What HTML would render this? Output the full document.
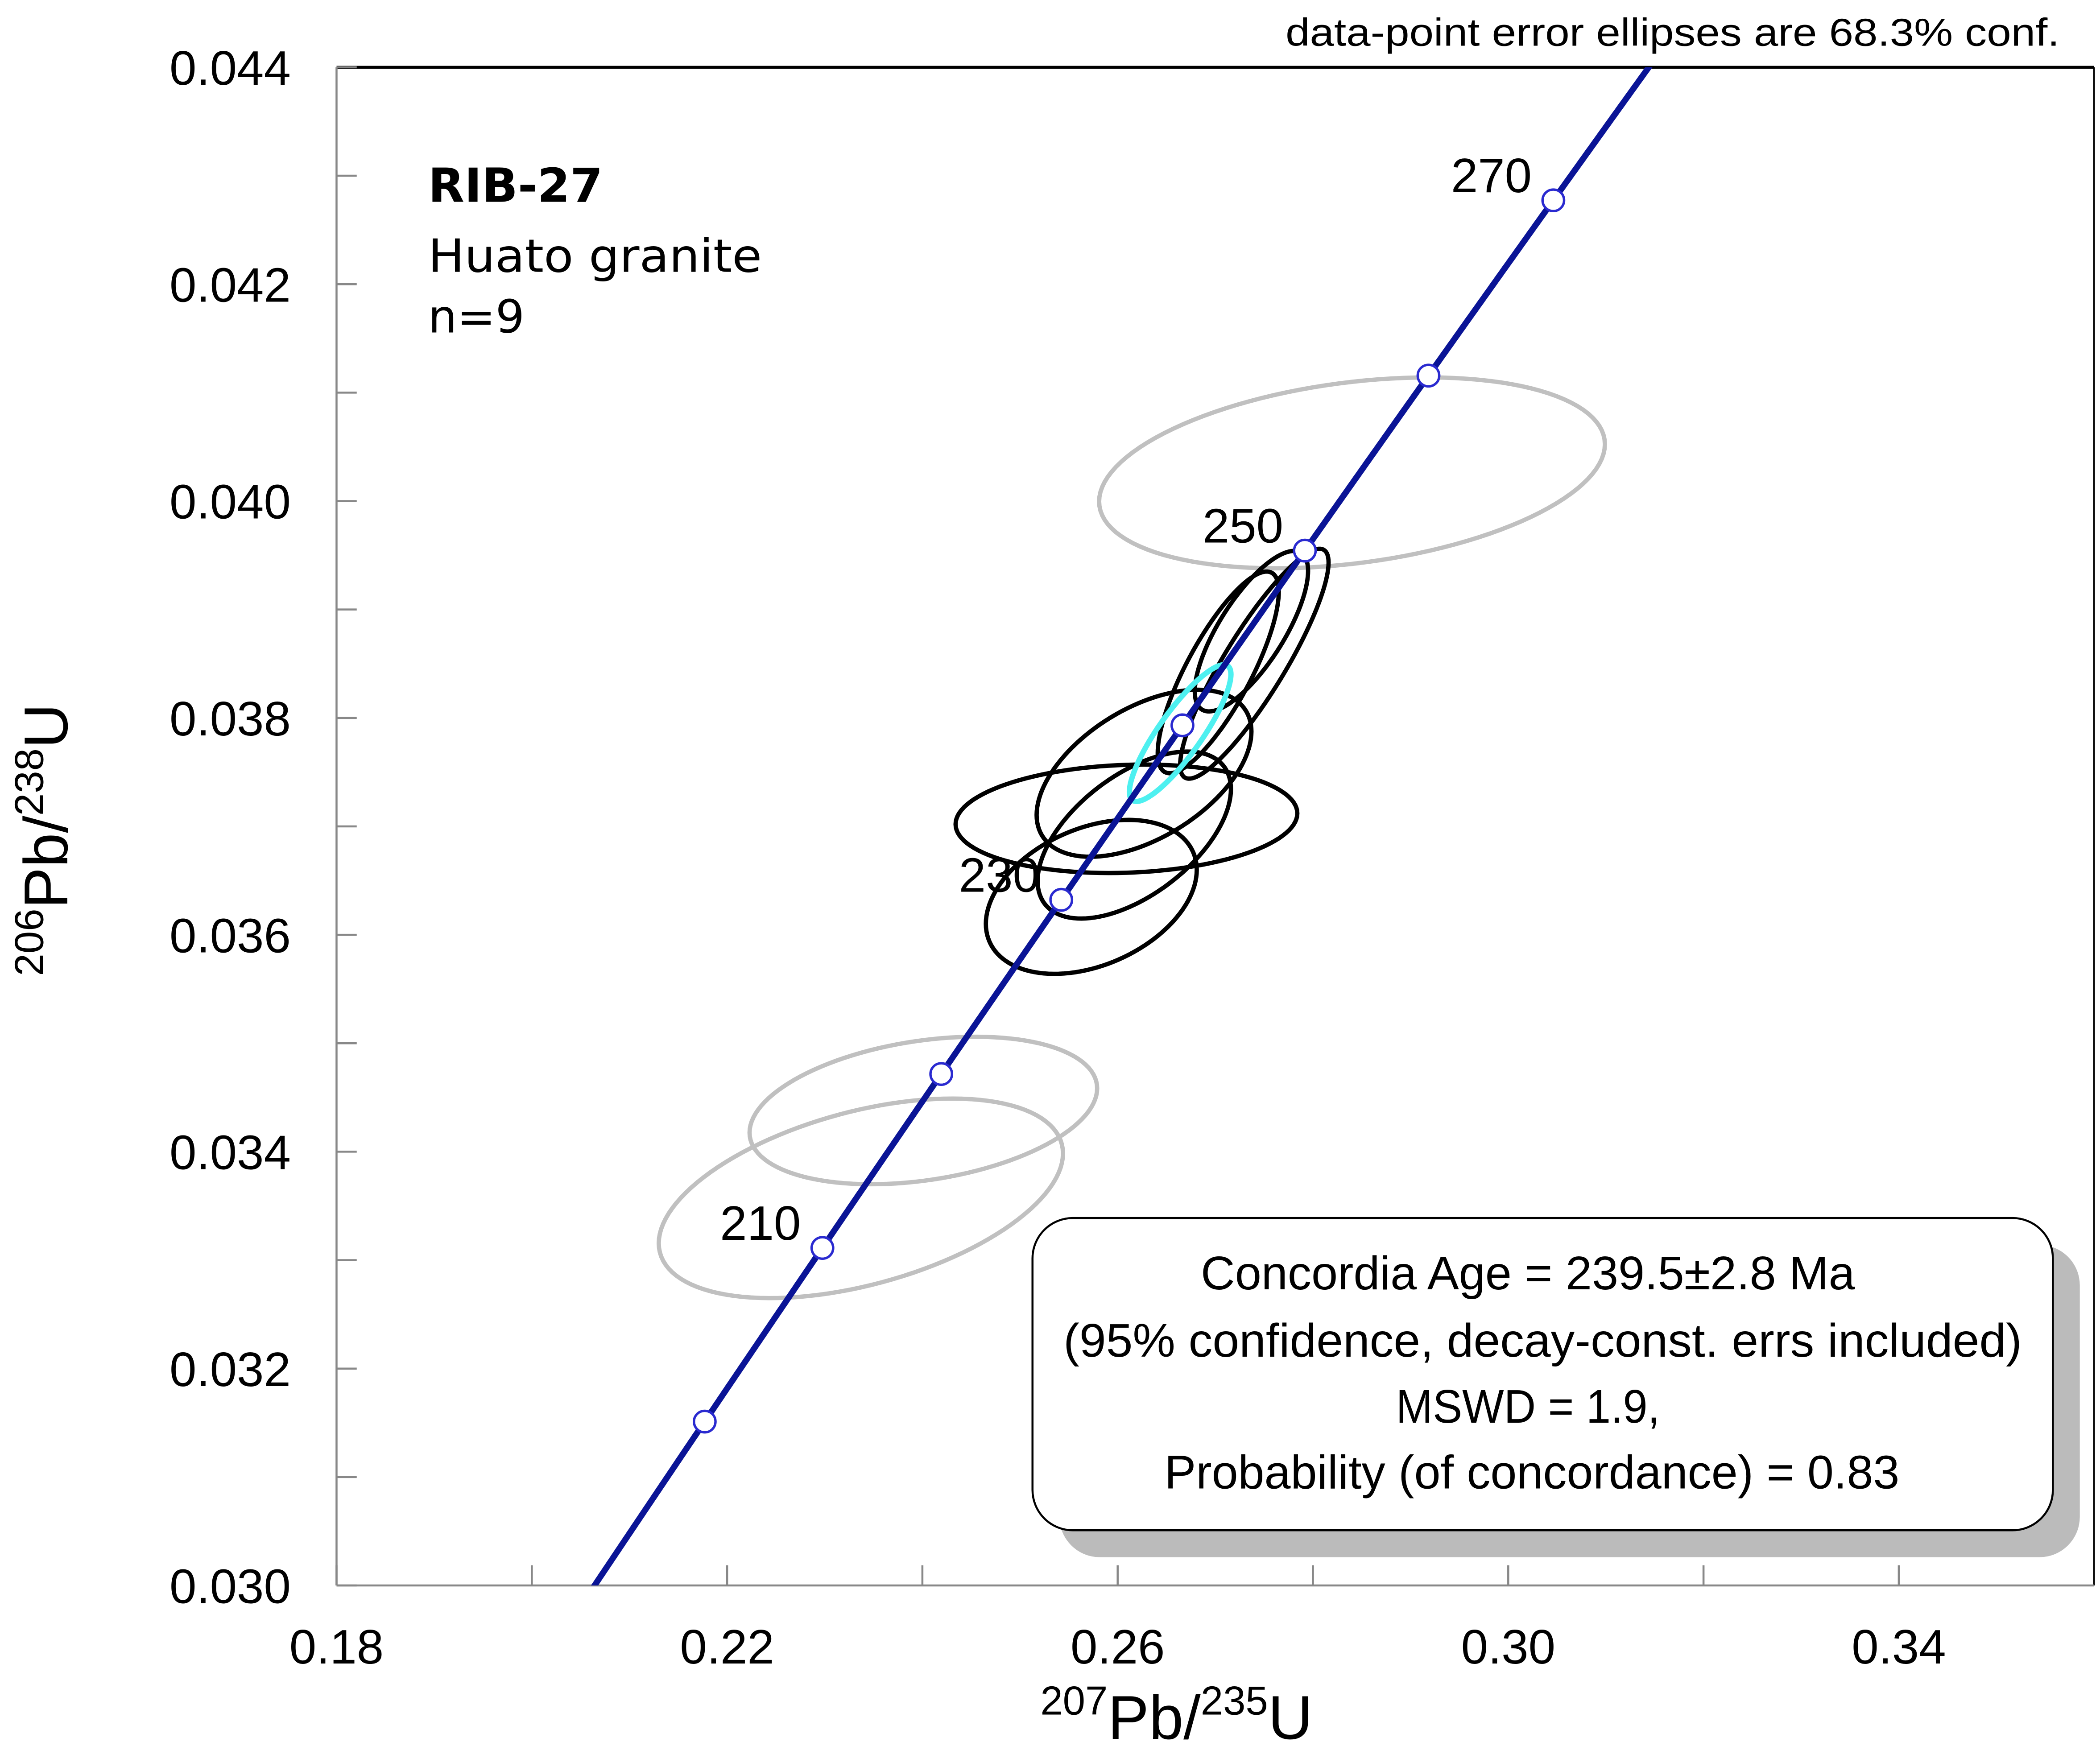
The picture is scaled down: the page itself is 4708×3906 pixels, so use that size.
<!DOCTYPE html>
<html><head><meta charset="utf-8"><style>
html,body{margin:0;padding:0;background:#fff;}
svg{display:block;}
text{font-family:"Liberation Sans",sans-serif;}
</style></head><body>
<svg id="chart" width="4708" height="3906" viewBox="0 0 1560 1294.3" preserveAspectRatio="none" xmlns="http://www.w3.org/2000/svg">
<defs><clipPath id="plotclip"><rect x="250" y="50" width="1305" height="1128"/></clipPath></defs>
<g id="axes"></g>
<g id="ellipses" clip-path="url(#plotclip)"></g>
<g id="concordia" clip-path="url(#plotclip)"></g>
<text x="1530" y="34" font-size="29" text-anchor="end" textLength="575" lengthAdjust="spacingAndGlyphs">data-point error ellipses are 68.3% conf.</text>
<text x="318" y="150" font-size="35" font-weight="bold" style="font-family:'DejaVu Sans',sans-serif">RIB-27</text>
<text x="318" y="202" font-size="34" style="font-family:'DejaVu Sans',sans-serif" textLength="248" lengthAdjust="spacingAndGlyphs">Huato granite</text>
<text x="318" y="247" font-size="34" style="font-family:'DejaVu Sans',sans-serif">n=9</text>
<g>
<rect x="787" y="925" width="758" height="232" rx="30" fill="#bbb"/>
<rect x="767" y="905" width="758" height="232" rx="30" fill="#fff" stroke="#000" stroke-width="1.5"/>
<text x="1135" y="958" font-size="35" text-anchor="middle" textLength="486" lengthAdjust="spacingAndGlyphs">Concordia Age = 239.5±2.8 Ma</text>
<text x="1146" y="1008" font-size="35" text-anchor="middle" textLength="712" lengthAdjust="spacingAndGlyphs">(95% confidence, decay-const. errs included)</text>
<text x="1135" y="1057" font-size="35" text-anchor="middle" textLength="196" lengthAdjust="spacingAndGlyphs">MSWD = 1.9,</text>
<text x="1138" y="1106" font-size="35" text-anchor="middle" textLength="546" lengthAdjust="spacingAndGlyphs">Probability  (of concordance) = 0.83</text>
</g>
<text x="874" y="1292" font-size="46" text-anchor="middle"><tspan font-size="30" dy="-18">207</tspan><tspan dy="18">Pb/</tspan><tspan font-size="30" dy="-18">235</tspan><tspan dy="18">U</tspan></text>
<text transform="translate(50,624) rotate(-90)" font-size="46" text-anchor="middle"><tspan font-size="30" dy="-18">206</tspan><tspan dy="18">Pb/</tspan><tspan font-size="30" dy="-18">238</tspan><tspan dy="18">U</tspan></text>
</svg>
<script>
const xTicks=[0.18,0.20,0.22,0.24,0.26,0.28,0.30,0.32,0.34];
const xTickLabels=["0.18","0.22","0.26","0.30","0.34"];
const yTicks=[0.030,0.031,0.032,0.033,0.034,0.035,0.036,0.037,0.038,0.039,0.040,0.041,0.042,0.043,0.044];
const yTickLabels=["0.030","0.032","0.034","0.036","0.038","0.040","0.042","0.044"];
const markerAges=[200,210,220,230,240,250,260,270];
const labelAges=[210,230,250,270];
// ellipses: x=207/235, y=206/238, sx, sy (half widths), rho
const ellX=[0.2840,0.2401,0.2337,0.2573,0.2609,0.2617,0.2627,0.2703,0.2737,0.2740,0.2664];
const ellY=[0.04026,0.03438,0.03357,0.03635,0.03707,0.03692,0.03749,0.03842,0.03880,0.03850,0.03786];
const ellSX=[0.0259,0.0178,0.0207,0.0108,0.0175,0.0099,0.0110,0.0062,0.0058,0.0076,0.0052];
const ellSY=[0.00088,0.00068,0.00092,0.00071,0.00050,0.00077,0.00077,0.00093,0.00074,0.00106,0.00063];
const ellRho=[0.3,0.3,0.45,0.35,0.1,0.55,0.5,0.8,0.75,0.88,0.86];
const ellKind=["gray","gray","gray","black","black","black","black","black","black","black","cyan"];

const NS="http://www.w3.org/2000/svg";
const X0=250,X1=1555.6,Y0=1178,Y1=50;
const xs=v=>X0+(v-0.18)/(0.36-0.18)*(X1-X0);
const ys=v=>Y0-(v-0.030)/(0.044-0.030)*(Y0-Y1);
const L238=1.55125e-10,L235=9.8485e-10;
const r75=t=>Math.exp(L235*t*1e6)-1, r68=t=>Math.exp(L238*t*1e6)-1;
function mk(tag,attrs,parent){const e=document.createElementNS(NS,tag);for(const k in attrs)e.setAttribute(k,attrs[k]);parent.appendChild(e);return e;}
const ax=document.getElementById('axes');
mk('line',{x1:X0,y1:Y1,x2:X1,y2:Y1,stroke:'#000','stroke-width':2.2},ax);
mk('line',{x1:X1,y1:Y1,x2:X1,y2:Y0,stroke:'#000','stroke-width':1.2},ax);
mk('line',{x1:X0,y1:Y1,x2:X0,y2:Y0,stroke:'#888','stroke-width':1.5},ax);
mk('line',{x1:X0,y1:Y0,x2:X1,y2:Y0,stroke:'#888','stroke-width':1.5},ax);
xTicks.forEach(v=>{const t=mk('line',{x1:xs(v),y1:Y0,x2:xs(v),y2:Y0-15,stroke:'#888','stroke-width':1.5},ax);

});
xTickLabels.forEach(s=>{const t=mk('text',{x:xs(parseFloat(s)),y:1236,'font-size':36,'text-anchor':'middle'},ax);t.textContent=s;

});
yTicks.forEach(v=>{const t=mk('line',{x1:X0,y1:ys(v),x2:X0+15,y2:ys(v),stroke:'#888','stroke-width':1.5},ax);

});
yTickLabels.forEach(s=>{const t=mk('text',{x:216,y:ys(parseFloat(s))+13,'font-size':36,'text-anchor':'end'},ax);t.textContent=s;

});
const eg=document.getElementById('ellipses');
const colors={gray:'#c0c0c0',black:'#000',cyan:'#4ef0f0'};
ellX.forEach((cx,i)=>{let d='';for(let k=0;k<=120;k++){const a=k/120*2*Math.PI;
const px=cx+ellSX[i]*Math.cos(a);const py=ellY[i]+ellSY[i]*(ellRho[i]*Math.cos(a)+Math.sqrt(1-ellRho[i]*ellRho[i])*Math.sin(a));
d+=(k?'L':'M')+xs(px).toFixed(2)+' '+ys(py).toFixed(2);}
const p=mk('path',{d:d+'Z',fill:'none',stroke:colors[ellKind[i]],'stroke-width':ellKind[i]==='cyan'?4:3.2},eg);

});
const cg=document.getElementById('concordia');
let d='';for(let t=180;t<=290;t+=1){d+=(t>180?'L':'M')+xs(r75(t)).toFixed(2)+' '+ys(r68(t)).toFixed(2);}
const cp=mk('path',{d:d,fill:'none',stroke:'#0a1496','stroke-width':4.5},cg);
markerAges.forEach(t=>{const c=mk('circle',{cx:xs(r75(t)),cy:ys(r68(t)),r:8,fill:'#fff',stroke:'#2a2ad0','stroke-width':1.8},cg);

});
const svg=document.getElementById('chart');
labelAges.forEach(t=>{const tx=mk('text',{x:xs(r75(t))-16,y:ys(r68(t))-6,'font-size':36,'text-anchor':'end'},svg);tx.textContent=String(t);

});
</script>
</body></html>
